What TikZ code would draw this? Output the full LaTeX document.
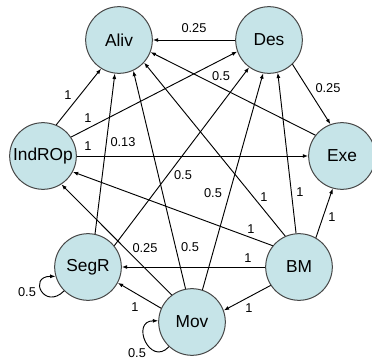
\documentclass[tikz,border=0pt]{standalone}
\usepackage{fontspec}
\setmainfont{Liberation Sans}
\usetikzlibrary{arrows.meta}
\definecolor{nodefill}{RGB}{198,228,232}
\definecolor{nodeline}{RGB}{70,70,70}
\begin{document}
\begin{tikzpicture}[x=0.75pt,y=-0.75pt,
  state/.style={circle,draw=nodeline,line width=0.75pt,fill=nodefill,minimum size=50pt,inner sep=0pt,font=\fontsize{13}{15}\selectfont},
  edge/.style={draw=black,line width=0.7pt,-{Latex[length=4pt,width=3pt]}},
  lbl/.style={font=\fontsize{9.6}{11}\selectfont,inner sep=0pt}]
\useasboundingbox (0,0) rectangle (372,364);
% nodes
\node[state] (Aliv) at (119,40) {Aliv};
\node[state] (Des) at (269,40) {Des};
\node[state] (Exe) at (342,156) {Exe};
\node[state] (IndROp) at (43,156) {IndROp};
\node[state] (SegR) at (88,267) {SegR};
\node[state] (BM) at (299,267) {BM};
\node[state] (Mov) at (192,322) {Mov};
% edges
\draw[edge] (Des.180) -- (Aliv.0);
\draw[edge] (Exe.142) -- (Aliv.-21);
\draw[edge] (BM.114) -- (Aliv.-42);
\draw[edge] (Mov.101) -- (Aliv.-65);
\draw[edge] (SegR.78) -- (Aliv.-97);
\draw[edge] (IndROp.67) -- (Aliv.-122);
\draw[edge] (IndROp.34) -- (Des.-160);
\draw[edge] (SegR.39) -- (Des.-126);
\draw[edge] (Mov.72) -- (Des.-100);
\draw[edge] (BM.95) -- (Des.-75);
\draw[edge] (Des.-46) -- (Exe.110);
\draw[edge] (IndROp.0) -- (Exe.180);
\draw[edge] (BM.60) -- (Exe.-106);
\draw[edge] (BM.141) -- (IndROp.-28);
\draw[edge] (Mov.127) -- (IndROp.-57);
\draw[edge] (BM.180) -- (SegR.0);
\draw[edge] (Mov.156) -- (SegR.-28);
\draw[edge] (BM.213) -- (Mov.20);
\draw[edge] (SegR.225) .. controls +(225:21pt) and +(180:21pt) .. (SegR.196);
\draw[edge] (Mov.227) .. controls +(227:21pt) and +(180:21pt) .. (Mov.178);
% labels
\node[lbl] (l1) at (194,28) {0.25};
\node[lbl] (l2) at (221,76) {0.5};
\node[lbl] (l3) at (328,88) {0.25};
\node[lbl] (l4) at (68,95) {1};
\node[lbl] (l5) at (88,118) {1};
\node[lbl] (l6) at (88,146) {1};
\node[lbl] (l7) at (123,142) {0.13};
\node[lbl] (l8) at (183,175) {0.5};
\node[lbl] (l9) at (213,193) {0.5};
\node[lbl] (l10) at (264,197) {1};
\node[lbl] (l11) at (300,192) {1};
\node[lbl] (l12) at (332,217) {1};
\node[lbl] (l13) at (251,229) {1};
\node[lbl] (l14) at (145,248) {0.25};
\node[lbl] (l15) at (190,247) {0.5};
\node[lbl] (l16) at (248,258) {1};
\node[lbl] (l17) at (249,308) {1};
\node[lbl] (l18) at (135,307) {1};
\node[lbl] (l19) at (27,292) {0.5};
\node[lbl] (l20) at (137,353) {0.5};
\end{tikzpicture}
\end{document}
